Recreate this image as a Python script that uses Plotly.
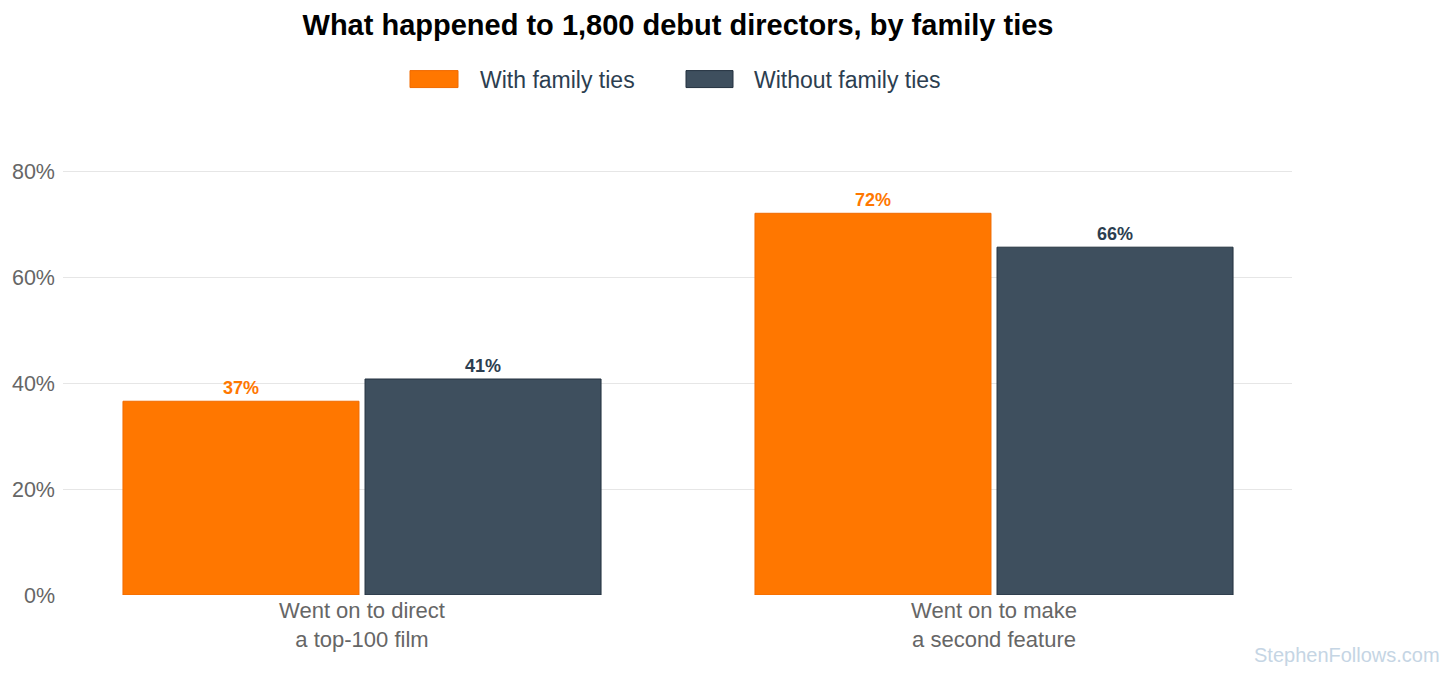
import plotly.graph_objects as go

categories = ["Went on to direct<br>a top-100 film", "Went on to make<br>a second feature"]
with_ties = [36.6, 72.1]
without_ties = [40.8, 65.7]
with_labels = ["37%", "72%"]
without_labels = ["41%", "66%"]
tick_vals = [0, 20, 40, 60, 80]
tick_text = ["0%", "20%", "40%", "60%", "80%"]
series_names = ["With family ties", "Without family ties"]

ORANGE = "#FF7700"
DARK = "#3E4F5E"
DARK_TEXT = "#2C3E50"
FONT = "Liberation Sans, Arial"

OFF = 8  # page body margin
W, H = 1456 - OFF, 677 - OFF
left, right = 63 - OFF, 1292 - OFF
top, bottom = 144.5 - OFF, 595 - OFF


def px(xp):
    return (xp - OFF - left) / (right - left)


def py(yp):
    return (bottom - (yp - OFF)) / (bottom - top)


fig = go.Figure()
fig.add_trace(go.Bar(
    x=categories, y=with_ties, name=series_names[0],
    marker=dict(color=ORANGE, line=dict(color="#F06A00", width=1)),
    text=with_labels, textposition="outside", cliponaxis=False,
    textfont=dict(family=FONT, size=18, color=ORANGE, weight="bold"),
))
fig.add_trace(go.Bar(
    x=categories, y=without_ties, name=series_names[1],
    marker=dict(color=DARK, line=dict(color="#23313F", width=1)),
    text=without_labels, textposition="outside", cliponaxis=False,
    textfont=dict(family=FONT, size=18, color=DARK_TEXT, weight="bold"),
))

fig.update_layout(
    width=W, height=H,
    margin=dict(l=left, r=W - right, t=top, b=H - bottom, autoexpand=False),
    paper_bgcolor="white", plot_bgcolor="white",
    font=dict(family=FONT, color="#666666"),
    barmode="group", bargap=0.234, bargroupgap=0.025,
    title=dict(text="<b>What happened to 1,800 debut directors, by family ties</b>",
               x=px(678), xref="paper", xanchor="center",
               y=1 - (25 - OFF) / H, yref="container", yanchor="middle",
               font=dict(size=29, color="black", family=FONT)),
    showlegend=False,
    xaxis=dict(range=[-0.4731, 1.4715], showgrid=False, showline=False, ticks="",
               tickfont=dict(size=22, color="#666666"), zeroline=False,
               ticklabelstandoff=0),
    yaxis=dict(range=[0, 85], tickvals=tick_vals, ticktext=tick_text,
               showgrid=True, gridcolor="#E6E6E6", gridwidth=1, zeroline=False,
               showline=False, tickfont=dict(size=21.5, color="#666666"), ticks="",
               ticklabelstandoff=7),
)

# manual legend with wide swatches
legend_items = [(410, 458, 478, ORANGE, "#F06A00"), (686, 733, 752, DARK, "#23313F")]
for (x0, x1, tx, fill, line), name in zip(legend_items, series_names):
    fig.add_shape(type="rect", xref="paper", yref="paper",
                  x0=px(x0), x1=px(x1), y0=py(87), y1=py(70),
                  fillcolor=fill, line=dict(color=line, width=1))
    fig.add_annotation(text=name, xref="paper", yref="paper",
                       x=px(tx), y=py(79), xanchor="left", yanchor="middle",
                       showarrow=False, font=dict(size=23, color=DARK_TEXT, family=FONT))

fig.add_annotation(text="StephenFollows.com", xref="paper", yref="paper",
                   x=px(1442), y=py(655),
                   xanchor="right", yanchor="middle", showarrow=False,
                   font=dict(size=20, color="#C5D5E4", family=FONT))

fig.write_html("out.html")
